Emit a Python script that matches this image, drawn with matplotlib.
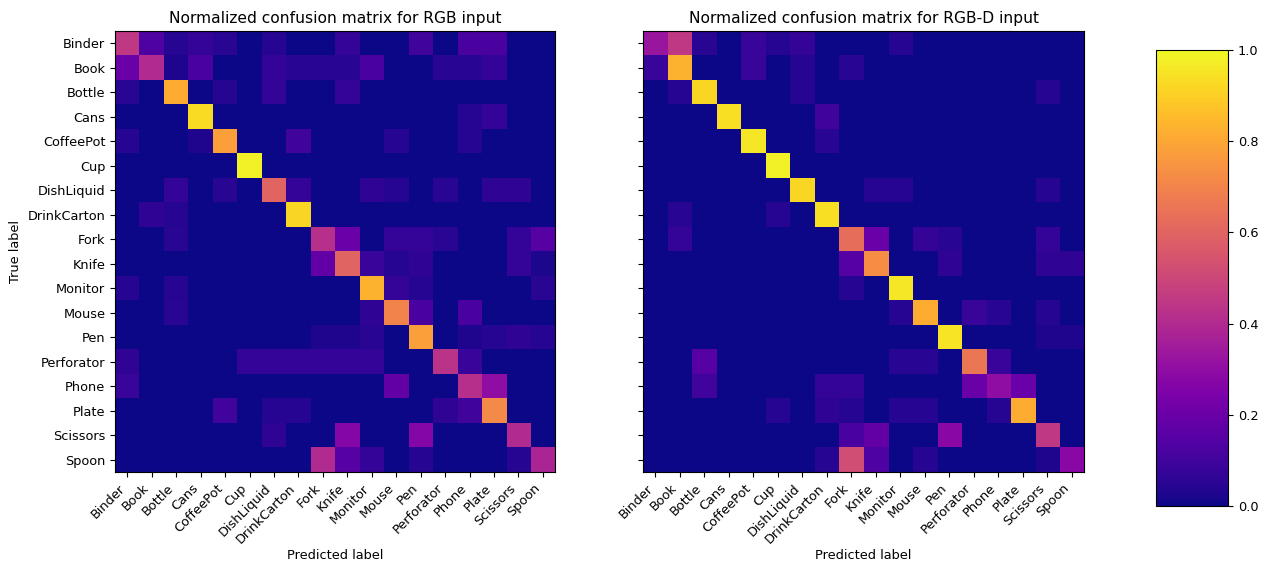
import numpy as np
import matplotlib
matplotlib.use("Agg")
import matplotlib.pyplot as plt

classes = ["Binder", "Book", "Bottle", "Cans", "CoffeePot", "Cup", "DishLiquid",
           "DrinkCarton", "Fork", "Knife", "Monitor", "Mouse", "Pen", "Perforator",
           "Phone", "Plate", "Scissors", "Spoon"]

# normalized confusion matrix, RGB input (rows = true, cols = predicted)
cm_rgb = [
    [0.45, 0.13, 0.04, 0.07, 0.05, 0.00, 0.04, 0.00, 0.00, 0.07, 0.00, 0.00, 0.10, 0.00, 0.12, 0.12, 0.00, 0.00],
    [0.20, 0.40, 0.03, 0.12, 0.00, 0.00, 0.07, 0.05, 0.05, 0.05, 0.12, 0.00, 0.00, 0.05, 0.05, 0.07, 0.00, 0.00],
    [0.05, 0.00, 0.82, 0.00, 0.04, 0.00, 0.07, 0.00, 0.00, 0.07, 0.00, 0.00, 0.00, 0.00, 0.00, 0.00, 0.00, 0.00],
    [0.00, 0.00, 0.00, 0.93, 0.00, 0.00, 0.00, 0.00, 0.00, 0.00, 0.00, 0.00, 0.00, 0.00, 0.04, 0.07, 0.00, 0.00],
    [0.04, 0.00, 0.00, 0.03, 0.78, 0.00, 0.00, 0.10, 0.00, 0.00, 0.00, 0.04, 0.00, 0.00, 0.04, 0.00, 0.00, 0.00],
    [0.00, 0.00, 0.00, 0.00, 0.00, 0.98, 0.00, 0.00, 0.00, 0.00, 0.00, 0.00, 0.00, 0.00, 0.00, 0.00, 0.00, 0.00],
    [0.00, 0.00, 0.07, 0.00, 0.05, 0.00, 0.60, 0.07, 0.00, 0.00, 0.06, 0.04, 0.00, 0.05, 0.00, 0.06, 0.06, 0.00],
    [0.00, 0.06, 0.04, 0.00, 0.00, 0.00, 0.00, 0.92, 0.00, 0.00, 0.00, 0.00, 0.00, 0.00, 0.00, 0.00, 0.00, 0.00],
    [0.00, 0.00, 0.05, 0.00, 0.00, 0.00, 0.00, 0.00, 0.42, 0.20, 0.00, 0.07, 0.07, 0.05, 0.00, 0.00, 0.07, 0.15],
    [0.00, 0.00, 0.00, 0.00, 0.00, 0.00, 0.00, 0.00, 0.18, 0.60, 0.08, 0.04, 0.06, 0.00, 0.00, 0.00, 0.07, 0.02],
    [0.04, 0.00, 0.04, 0.00, 0.00, 0.00, 0.00, 0.00, 0.00, 0.00, 0.83, 0.07, 0.04, 0.00, 0.00, 0.00, 0.00, 0.05],
    [0.00, 0.00, 0.05, 0.00, 0.00, 0.00, 0.00, 0.00, 0.00, 0.00, 0.06, 0.70, 0.12, 0.00, 0.12, 0.00, 0.00, 0.00],
    [0.00, 0.00, 0.00, 0.00, 0.00, 0.00, 0.00, 0.00, 0.03, 0.03, 0.05, 0.00, 0.78, 0.00, 0.03, 0.04, 0.06, 0.04],
    [0.06, 0.00, 0.00, 0.00, 0.00, 0.07, 0.07, 0.07, 0.07, 0.07, 0.07, 0.00, 0.00, 0.43, 0.08, 0.00, 0.00, 0.00],
    [0.08, 0.00, 0.00, 0.00, 0.00, 0.00, 0.00, 0.00, 0.00, 0.00, 0.00, 0.18, 0.00, 0.00, 0.42, 0.30, 0.00, 0.00],
    [0.00, 0.00, 0.00, 0.00, 0.10, 0.00, 0.04, 0.04, 0.00, 0.00, 0.00, 0.00, 0.00, 0.06, 0.10, 0.72, 0.00, 0.00],
    [0.00, 0.00, 0.00, 0.00, 0.00, 0.00, 0.06, 0.00, 0.00, 0.27, 0.00, 0.00, 0.27, 0.00, 0.00, 0.00, 0.40, 0.00],
    [0.00, 0.00, 0.00, 0.00, 0.00, 0.00, 0.00, 0.00, 0.40, 0.15, 0.07, 0.00, 0.04, 0.00, 0.00, 0.00, 0.04, 0.38],
]

# normalized confusion matrix, RGB-D input
cm_rgbd = [
    [0.33, 0.45, 0.05, 0.00, 0.08, 0.04, 0.07, 0.00, 0.00, 0.00, 0.04, 0.00, 0.00, 0.00, 0.00, 0.00, 0.00, 0.00],
    [0.08, 0.83, 0.00, 0.00, 0.08, 0.00, 0.04, 0.00, 0.05, 0.00, 0.00, 0.00, 0.00, 0.00, 0.00, 0.00, 0.00, 0.00],
    [0.00, 0.04, 0.92, 0.00, 0.00, 0.00, 0.04, 0.00, 0.00, 0.00, 0.00, 0.00, 0.00, 0.00, 0.00, 0.00, 0.04, 0.00],
    [0.00, 0.00, 0.00, 0.94, 0.00, 0.00, 0.00, 0.10, 0.00, 0.00, 0.00, 0.00, 0.00, 0.00, 0.00, 0.00, 0.00, 0.00],
    [0.00, 0.00, 0.00, 0.00, 0.96, 0.00, 0.00, 0.05, 0.00, 0.00, 0.00, 0.00, 0.00, 0.00, 0.00, 0.00, 0.00, 0.00],
    [0.00, 0.00, 0.00, 0.00, 0.00, 0.98, 0.00, 0.00, 0.00, 0.00, 0.00, 0.00, 0.00, 0.00, 0.00, 0.00, 0.00, 0.00],
    [0.00, 0.00, 0.00, 0.00, 0.00, 0.00, 0.92, 0.00, 0.00, 0.04, 0.04, 0.00, 0.00, 0.00, 0.00, 0.00, 0.04, 0.00],
    [0.00, 0.05, 0.00, 0.00, 0.00, 0.04, 0.00, 0.94, 0.00, 0.00, 0.00, 0.00, 0.00, 0.00, 0.00, 0.00, 0.00, 0.00],
    [0.00, 0.07, 0.00, 0.00, 0.00, 0.00, 0.00, 0.00, 0.63, 0.20, 0.00, 0.07, 0.05, 0.00, 0.00, 0.00, 0.07, 0.00],
    [0.00, 0.00, 0.00, 0.00, 0.00, 0.00, 0.00, 0.00, 0.15, 0.73, 0.00, 0.00, 0.06, 0.00, 0.00, 0.00, 0.06, 0.06],
    [0.00, 0.00, 0.00, 0.00, 0.00, 0.00, 0.00, 0.00, 0.04, 0.00, 0.96, 0.00, 0.00, 0.00, 0.00, 0.00, 0.00, 0.00],
    [0.00, 0.00, 0.00, 0.00, 0.00, 0.00, 0.00, 0.00, 0.00, 0.00, 0.04, 0.82, 0.00, 0.08, 0.05, 0.00, 0.04, 0.00],
    [0.00, 0.00, 0.00, 0.00, 0.00, 0.00, 0.00, 0.00, 0.00, 0.00, 0.00, 0.00, 0.95, 0.00, 0.00, 0.00, 0.03, 0.03],
    [0.00, 0.00, 0.15, 0.00, 0.00, 0.00, 0.00, 0.00, 0.00, 0.00, 0.05, 0.05, 0.00, 0.66, 0.08, 0.00, 0.00, 0.00],
    [0.00, 0.00, 0.10, 0.00, 0.00, 0.00, 0.00, 0.07, 0.07, 0.00, 0.00, 0.00, 0.00, 0.20, 0.30, 0.20, 0.00, 0.00],
    [0.00, 0.00, 0.00, 0.00, 0.00, 0.04, 0.00, 0.06, 0.04, 0.00, 0.04, 0.04, 0.00, 0.00, 0.04, 0.82, 0.00, 0.00],
    [0.00, 0.00, 0.00, 0.00, 0.00, 0.00, 0.00, 0.00, 0.12, 0.18, 0.00, 0.00, 0.28, 0.00, 0.00, 0.00, 0.45, 0.00],
    [0.00, 0.00, 0.00, 0.00, 0.00, 0.00, 0.00, 0.04, 0.52, 0.13, 0.00, 0.04, 0.00, 0.00, 0.00, 0.00, 0.03, 0.28],
]

plt.rc('xtick', labelsize=9.3)
plt.rc('ytick', labelsize=9.3)
plt.rc('axes', labelsize=9.3)

fig = plt.figure(figsize=(12.63, 5.65), dpi=100)
ax1 = fig.add_axes([0.0911, 0.1646, 0.3484, 0.7805])
ax2 = fig.add_axes([0.5091, 0.1646, 0.3492, 0.7805])
cax = fig.add_axes([0.9153, 0.1044, 0.057, 0.807])

ticks = np.arange(len(classes))
for ax, cm, title in [(ax1, cm_rgb, "Normalized confusion matrix for RGB input"),
                      (ax2, cm_rgbd, "Normalized confusion matrix for RGB-D input")]:
    im = ax.imshow(np.array(cm), interpolation="nearest", cmap="plasma",
                   vmin=0, vmax=1, aspect="auto")
    ax.set_title(title, fontsize=11.2)
    ax.set_xticks(ticks)
    ax.set_xticklabels(classes, rotation=45, ha="right")
    ax.set_yticks(ticks)
    ax.set_xlabel("Predicted label", labelpad=2)

ax1.set_yticklabels(classes)
ax1.set_ylabel("True label", labelpad=4)
ax2.set_yticklabels([])

fig.colorbar(im, cax=cax)
fig.savefig("out.png", dpi=100)
